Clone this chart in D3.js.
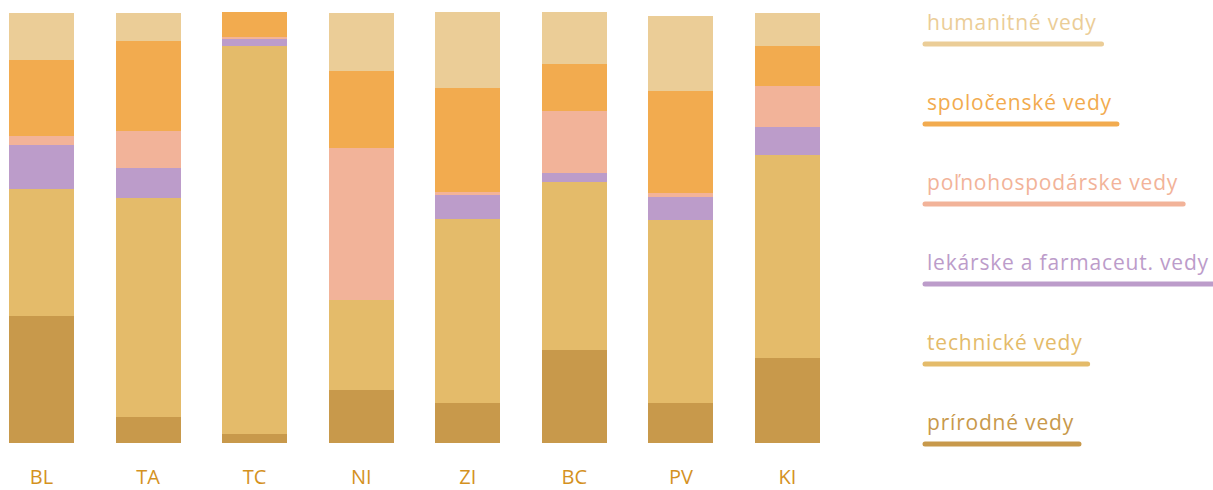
<!DOCTYPE html>
<html>
<head>
<meta charset="utf-8">
<script src="https://cdn.jsdelivr.net/npm/d3@7"></script>
<style>
  html, body { margin: 0; padding: 0; background: #fff; }
  svg { display: block; font-family: "Open Sans", "Noto Sans", sans-serif; }
</style>
</head>
<body>
<svg id="chart" width="1213" height="490"></svg>
<script>
// Categories (regions)
const categories = ["BL", "TA", "TC", "NI", "ZI", "BC", "PV", "KI"];
// Series (fields of science), bottom to top, values in %
const seriesNames = ["prírodné vedy", "technické vedy", "lekárske a farmaceut. vedy", "poľnohospodárske vedy", "spoločenské vedy", "humanitné vedy"];
const prirodne      = [29.5, 6.0, 2.1, 12.3,  9.3, 21.6,  9.3, 19.8];
const technicke     = [29.5, 50.9, 90.2, 20.9, 42.8, 39.1, 42.6, 47.2];
const lekarske      = [10.2, 7.0, 1.6,  0.0,  5.6,  2.1,  5.3,  6.5];
const polnohosp     = [ 2.1, 8.6, 0.5, 35.3,  0.7, 14.4,  0.9,  9.5];
const spolocenske   = [17.7, 20.9, 5.8, 18.1, 24.2, 10.9, 23.7,  9.3];
const humanitne     = [10.9, 6.5, 0.0, 13.3, 17.7, 12.1, 17.4,  7.7];
const seriesValues = [prirodne, technicke, lekarske, polnohosp, spolocenske, humanitne];
const colors = ["#c8994b", "#e4bb6a", "#bc9cca", "#f2b399", "#f2ab4f", "#ebcd97"];

const rows = categories.map((c, i) => {
  const r = { cat: c };
  seriesNames.forEach((s, j) => r[s] = seriesValues[j][i]);
  return r;
});

const svg = d3.select("#chart");
const x = d3.scaleBand().domain(categories).range([9, 820]).paddingInner(0.39).paddingOuter(0);
const y = d3.scaleLinear().domain([0, 100]).range([443, 13]);
const color = d3.scaleOrdinal().domain(seriesNames).range(colors);

const stacked = d3.stack().keys(seriesNames)(rows);

svg.append("g").attr("shape-rendering", "crispEdges").selectAll("g")
  .data(stacked).join("g")
  .attr("fill", d => color(d.key))
  .selectAll("rect")
  .data(d => d).join("rect")
  .attr("x", d => x(d.data.cat))
  .attr("width", x.bandwidth())
  .attr("y", d => y(d[1]))
  .attr("height", d => y(d[0]) - y(d[1]));

// x axis labels
const xAxis = d3.axisBottom(x).tickSize(0).tickPadding(0);
const gx = svg.append("g").attr("transform", "translate(0,443)").call(xAxis);
gx.select(".domain").remove();
gx.selectAll("text")
  .attr("y", 41).attr("dy", null)
  .attr("font-size", 20)
  .attr("font-family", "'Open Sans', 'Noto Sans', sans-serif")
  .attr("fill", "#d4921f");

// legend, top to bottom (reverse of stack)
const legendItems = seriesNames.slice().reverse();
const lg = svg.append("g");
legendItems.forEach((name, i) => {
  const c = color(name);
  const g = lg.append("g").attr("transform", `translate(0, ${30 + i * 80})`);
  const t = g.append("text").attr("x", 927).attr("y", 0)
    .attr("font-size", 21).attr("letter-spacing", 0.8).attr("fill", c).text(name);
  const w = t.node().getComputedTextLength();
  g.append("line").attr("x1", 925).attr("x2", 927 + w + 5)
    .attr("y1", 14).attr("y2", 14)
    .attr("stroke", c).attr("stroke-width", 5).attr("stroke-linecap", "round");
});
</script>
</body>
</html>
